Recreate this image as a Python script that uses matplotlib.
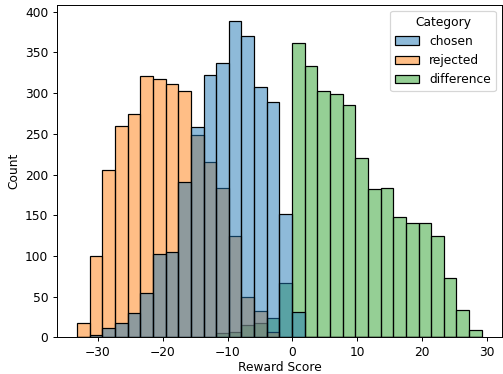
import numpy as np
import pandas as pd
import matplotlib
matplotlib.use("Agg")
import matplotlib.pyplot as plt
import seaborn as sns

# bins shared by all three categories
bin_lo, bin_hi, n_bins = -33.2, 29.2, 32

chosen = [0, 3, 11, 18, 30, 54, 103, 105, 191, 259, 322, 337, 389, 370, 307, 289,
          151, 31, 0, 0, 0, 0, 0, 0, 0, 0, 0, 0, 0, 0, 0, 0]
rejected = [18, 100, 205, 260, 274, 321, 317, 311, 303, 249, 215, 183, 125, 50, 32, 6,
            0, 0, 0, 0, 0, 0, 0, 0, 0, 0, 0, 0, 0, 0, 0, 0]
difference = [0, 0, 0, 0, 0, 0, 0, 0, 0, 0, 0, 5, 6, 15, 18, 24,
              67, 362, 333, 303, 299, 286, 220, 182, 183, 148, 140, 141, 124, 73, 34, 9]
categories = ["chosen", "rejected", "difference"]

edges = np.linspace(bin_lo, bin_hi, n_bins + 1)
centers = (edges[:-1] + edges[1:]) / 2

rows = []
for cat, counts in zip(categories, [chosen, rejected, difference]):
    for c, n in zip(centers, counts):
        rows.append({"Reward Score": c, "count": n, "Category": cat})
df = pd.DataFrame(rows)

dpi = 88
fig = plt.figure(figsize=(503 / dpi, 374 / dpi), dpi=dpi)
ax = fig.add_axes([0.113, 0.098, 0.885, 0.889])
sns.histplot(data=df, x="Reward Score", weights="count", hue="Category",
             hue_order=categories, bins=n_bins, binrange=(bin_lo, bin_hi), ax=ax)
ax.set_ylabel("Count")
ax.set_xlabel("Reward Score", labelpad=2)

fig.savefig("out.png", dpi=dpi)
